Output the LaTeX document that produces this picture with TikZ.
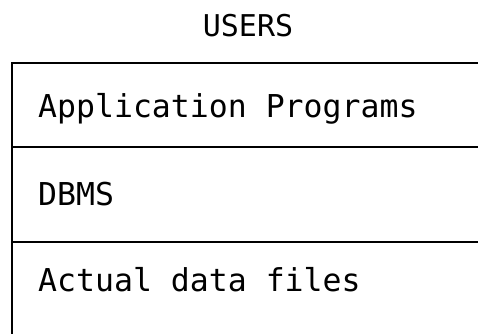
\documentclass[tikz,border=0pt]{standalone}
\usepackage{fontspec}
\setmonofont{DejaVu Sans Mono}
\usepackage{tikz}
\usetikzlibrary{calc}
\tikzset{
  layer/.style={anchor=base west, inner sep=0pt, font=\ttfamily\fontsize{31.5pt}{36pt}\selectfont},
  frame/.style={line width=2.8pt}
}

\begin{document}
\begin{tikzpicture}[x=1pt, y=-1pt]
          \useasboundingbox (0, 0) rectangle (478, 333);
          \coordinate (tl) at (12, 63);
          \coordinate (tr) at (490, 63);
          \coordinate (bl) at (12, 345);
          \coordinate (m1l) at (12, 147);
          \coordinate (m1r) at (490, 147);
          \coordinate (m2l) at (12, 242);
          \coordinate (m2r) at (490, 242);

          \node[anchor=base, inner sep=0pt, font=\ttfamily\fontsize{30pt}{34pt}\selectfont] (users) at (248, 36) {USERS};
          \node[layer] (apps) at (38, 117) {Application Programs};
          \node[layer] (dbms) at (38, 205) {DBMS};
          \node[layer] (files) at (38, 291) {Actual data files};

          \draw[frame] (tr) -- (tl) -- (bl);
          \draw[frame] (m1l) -- (m1r);
          \draw[frame] (m2l) -- (m2r);
        \end{tikzpicture}
\end{document}
